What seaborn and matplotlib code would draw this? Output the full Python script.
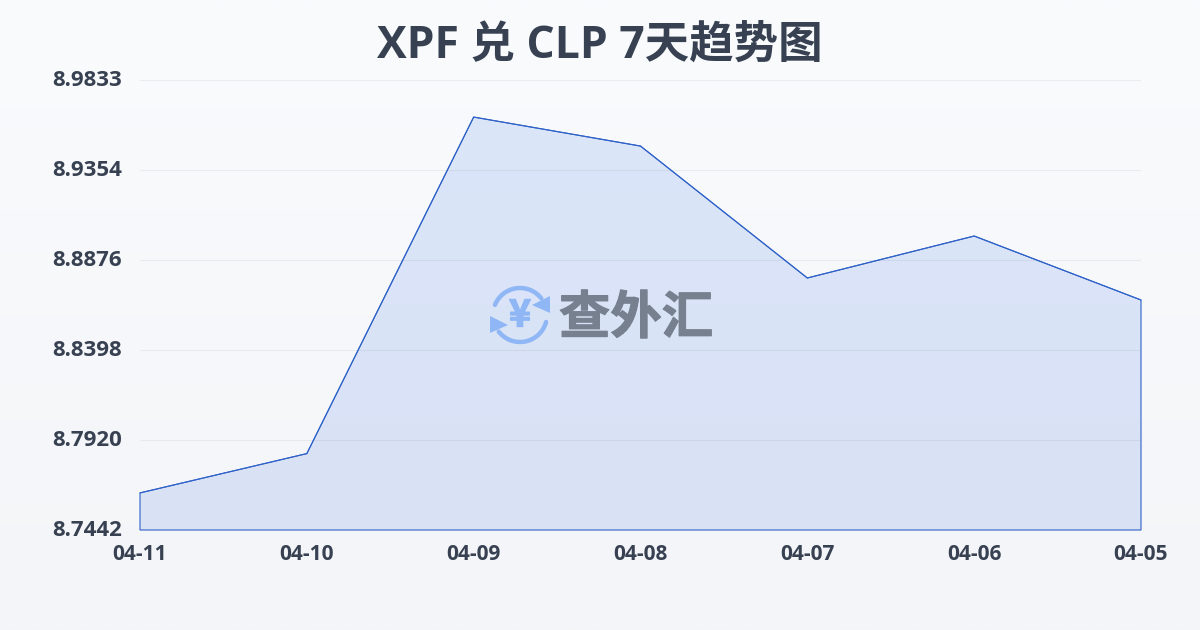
import numpy as np
import pandas as pd
import matplotlib
matplotlib.use("Agg")
import matplotlib.pyplot as plt
import matplotlib.patheffects as pe
from matplotlib.patches import Arc, Polygon
from matplotlib.transforms import ScaledTranslation
import seaborn as sns

dates = ["04-11", "04-10", "04-09", "04-08", "04-07", "04-06", "04-05"]
rates = [8.7639, 8.7848, 8.9636, 8.9482, 8.8781, 8.9004, 8.8664]
y_ticks = [8.7442, 8.7920, 8.8398, 8.8876, 8.9354, 8.9833]
title = "XPF 兑 CLP 7天趋势图"
watermark = "查外汇"

sns.set_theme(style="white")
FONT = ["Open Sans", "Noto Sans CJK SC", "DejaVu Sans"]
CJK = ["Noto Sans CJK SC", "DejaVu Sans"]
plt.rcParams["font.family"] = FONT
W, H = 1200, 630
fig = plt.figure(figsize=(12, 6.3), dpi=100)

# page background
bg = fig.add_axes([0, 0, 1, 1], zorder=0)
bg.axis("off")
top, bot = np.array([0xf9, 0xfb, 0xfd]) / 255, np.array([0xf3, 0xf5, 0xf8]) / 255
grad = np.linspace(0, 1, 256)[:, None, None] * (bot - top) + top
bg.imshow(grad, aspect="auto", extent=[0, 1, 0, 1], origin="upper")

ax = fig.add_axes([140 / W, 1 - 530 / H, 1001 / W, 450 / H], zorder=1)
ax.patch.set_alpha(0)
df = pd.DataFrame({"date": dates, "rate": rates})
x = np.arange(len(dates))
ymin, ymax = y_ticks[0], y_ticks[-1]

# gradient area
c0, c1 = np.array([0xdb, 0xe6, 0xf9]) / 255, np.array([0xd9, 0xe1, 0xf5]) / 255
fillgrad = np.linspace(0, 1, 256)[:, None, None] * (c1 - c0) + c0
im = ax.imshow(fillgrad, aspect="auto", extent=[0, 6, ymin, ymax], origin="upper", zorder=1)
verts = [(0, ymin)] + list(zip(x, rates)) + [(6, ymin)]
poly = Polygon(verts, closed=True, transform=ax.transData, facecolor="none",
               edgecolor="#2f62c8", linewidth=0.8, zorder=4, clip_on=False)
ax.add_patch(poly)
im.set_clip_path(Polygon(verts, closed=True, transform=ax.transData))
sns.lineplot(data=df, x="date", y="rate", ax=ax, color="#2f62c8", linewidth=0.8, zorder=4,
             sort=False, clip_on=False)

ax.set_xlim(0, 6)
ax.set_ylim(ymin, ymax)
ax.set_xlabel("")
ax.set_ylabel("")
ax.set_yticks(y_ticks)
ax.set_yticklabels([f"{v:.4f}" for v in y_ticks])
ax.set_xticks(x)
ax.set_xticklabels(dates)
for s in ax.spines.values():
    s.set_visible(False)
ax.grid(axis="y", color="#374151", alpha=0.07, linewidth=0.8, zorder=5)
ax.set_axisbelow(False)
ax.tick_params(axis="y", length=0, pad=13, labelsize=16, labelcolor="#374151")
ax.tick_params(axis="x", length=5, width=1, color="#e3e6ea", pad=5, labelsize=15, labelcolor="#374151")
for lab in ax.get_xticklabels() + ax.get_yticklabels():
    lab.set_fontweight("bold")
    lab.set_family(FONT)
shift = ScaledTranslation(0, 2 / 100, fig.dpi_scale_trans)
for lab in ax.get_yticklabels():
    lab.set_transform(lab.get_transform() + shift)

fig.text(600 / W, 1 - 46 / H, title, ha="center", va="center", fontsize=32,
         fontweight="bold", color="#374151", family=FONT, zorder=3)

# watermark overlay (pixel coordinates)
ov = fig.add_axes([0, 0, 1, 1], zorder=2)
ov.set_xlim(0, W)
ov.set_ylim(H, 0)
ov.axis("off")
logo = "#8fb6f5"
cx, cy = 520, 315
ov.add_patch(Arc((cx, cy), 54, 54, theta1=202, theta2=322, color=logo, lw=3.2, capstyle="round"))
ov.add_patch(Arc((cx, cy), 54, 54, theta1=15, theta2=142, color=logo, lw=3.2, capstyle="round"))
ov.add_patch(Polygon([(550, 296), (550, 313), (532, 305)], closed=True, fc=logo, ec="none"))
ov.add_patch(Polygon([(490, 316), (508, 325), (490, 333)], closed=True, fc=logo, ec="none"))
ov.text(cx, cy, "¥", ha="center", va="center", fontsize=27, fontweight="bold", color=logo, family=CJK,
        path_effects=[pe.withStroke(linewidth=1.0, foreground=logo)])
ov.text(636, 318, watermark, ha="center", va="center", fontsize=37, fontweight="bold",
        color="#76808f", family=CJK, path_effects=[pe.withStroke(linewidth=0.8, foreground="#76808f")])

fig.savefig("out.png", dpi=100)
